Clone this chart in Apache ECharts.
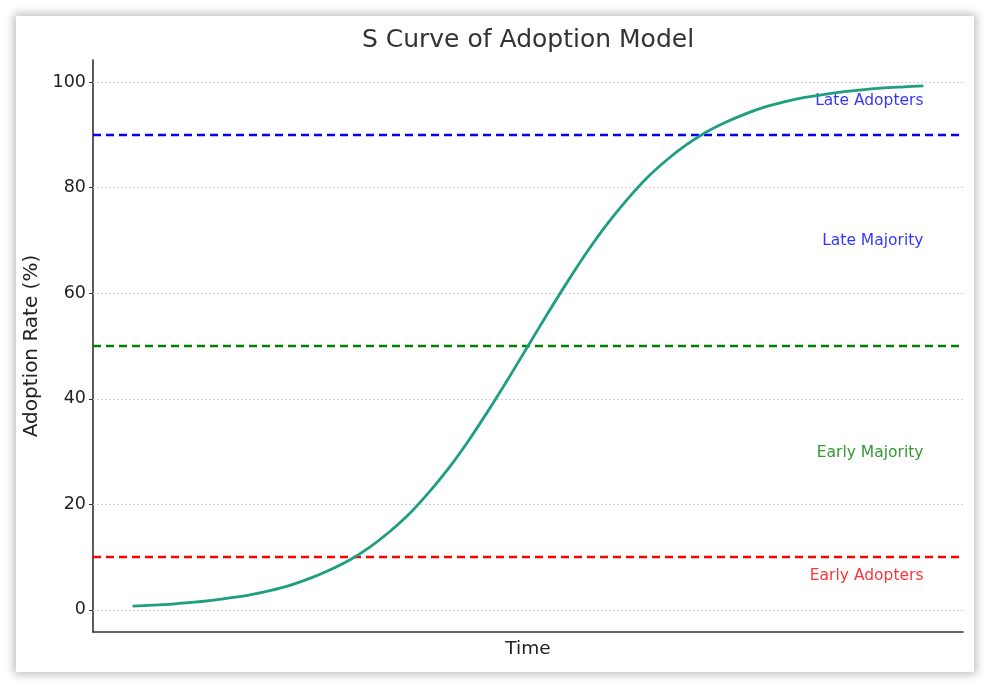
<!DOCTYPE html>
<html>
<head>
<meta charset="utf-8">
<script src="https://cdn.jsdelivr.net/npm/echarts@6/dist/echarts.min.js"></script>
<style>
html,body{margin:0;padding:0;background:#fff;width:990px;height:688px;overflow:hidden;}
#card{position:absolute;left:16px;top:16px;width:958px;height:656px;background:#fff;box-shadow:0 0 9px 2px rgba(0,0,0,0.28);}
#chart{position:absolute;left:0;top:0;width:990px;height:688px;}
</style>
</head>
<body>
<div id="card"></div>
<div id="chart"></div>
<script>
// Time values (arbitrary units) and read adoption rate (%)
const timeValues = [0,0.25,0.5,0.75,1,1.25,1.5,1.75,2,2.25,2.5,2.75,3,3.25,3.5,3.75,4,4.25,4.5,4.75,5,5.25,5.5,5.75,6,6.25,6.5,6.75,7,7.25,7.5,7.75,8,8.25,8.5,8.75,9,9.25,9.5,9.75,10];
const adoptionRate = [0.7,0.9,1.1,1.4,1.8,2.3,2.9,3.7,4.7,6.0,7.6,9.5,11.9,14.8,18.2,22.3,26.9,32.1,37.8,43.8,50.0,56.2,62.2,67.9,73.1,77.7,81.8,85.2,88.1,90.5,92.4,94.0,95.3,96.3,97.1,97.7,98.2,98.6,98.9,99.1,99.3];
const yTicks = [0,20,40,60,80,100];
const thresholds = [10,50,90];
const thresholdColors = ['#ff0000','#008000','#0000ff'];
const stageNames = ['Late Adopters','Late Majority','Early Majority','Early Adopters'];
const stageY = [96.4,69.9,29.7,6.4];
const stageColors = ['#0000ff','#0000ff','#008000','#ff0000'];
const titleText = 'S Curve of Adoption Model';

const chart = echarts.init(document.getElementById('chart'), null, {renderer:'canvas'});
const font = 'DejaVu Sans';
chart.setOption({
  backgroundColor:'transparent',
  animation:false,
  graphic:[{type:'text',x:528,y:40,silent:true,
    style:{text:titleText,fontFamily:font,fontSize:25,fill:'#333',align:'center',verticalAlign:'middle'}}],
  grid:{left:93,right:27,top:60,bottom:56},
  xAxis:{type:'value',min:-0.5,max:10.5,name:'Time',nameLocation:'middle',nameGap:8,
    nameTextStyle:{fontFamily:font,fontSize:18.5,color:'#222',verticalAlign:'top'},
    axisLine:{show:true,onZero:false,lineStyle:{color:'#333',width:1.6}},
    axisTick:{show:false},axisLabel:{show:false},splitLine:{show:false}},
  yAxis:{type:'value',min:-4.2,max:104.2,name:'Adoption Rate (%)',nameLocation:'middle',nameGap:47,
    nameTextStyle:{fontFamily:font,fontSize:20,color:'#222'},
    axisLine:{show:true,onZero:false,lineStyle:{color:'#333',width:1.6}},
    axisTick:{show:true,customValues:yTicks,length:4,lineStyle:{color:'#333'}},
    axisLabel:{customValues:yTicks,fontFamily:font,fontSize:17.5,color:'#222',margin:7},
    splitLine:{show:false}},
  series:[
    {type:'line',data:[],silent:true,
      markLine:{silent:true,symbol:'none',label:{show:false},
        lineStyle:{color:'#d0d0d0',type:[2,2],width:1},
        data:yTicks.map(v=>({yAxis:v}))}},
    {type:'line',data:[],silent:true,
      markLine:{silent:true,symbol:'none',label:{show:false},
        data:thresholds.map((v,i)=>({yAxis:v,lineStyle:{color:thresholdColors[i],type:[8,5],width:2.4}}))}},
    {type:'line',data:timeValues.map((t,i)=>[t,adoptionRate[i]]),showSymbol:false,smooth:0.3,
      lineStyle:{color:'#1f9e80',width:2.8},z:5},
    {type:'scatter',symbolSize:0,silent:true,
      data:stageNames.map((n,i)=>({value:[10,stageY[i]],name:n,
        label:{show:true,position:'left',distance:0,formatter:n,
          fontFamily:font,fontSize:15.5,color:stageColors[i]}}))}
  ]
});
</script>
</body>
</html>
